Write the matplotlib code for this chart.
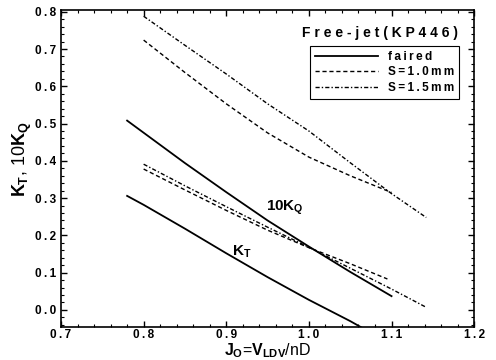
import matplotlib.pyplot as plt
from matplotlib.ticker import MultipleLocator, FuncFormatter

plt.rcParams['font.family'] = ['Liberation Sans', 'DejaVu Sans']
plt.rcParams['font.weight'] = 'bold'
plt.rcParams['mathtext.fontset'] = 'custom'
plt.rcParams['mathtext.rm'] = 'Liberation Sans:bold'
plt.rcParams['mathtext.it'] = 'Liberation Sans:bold'
plt.rcParams['mathtext.bf'] = 'Liberation Sans:bold'

# faired propeller
j_faired = [0.78, 0.80, 0.85, 0.90, 0.95, 1.00, 1.05, 1.07]
kt_faired = [0.306, 0.282, 0.218, 0.152, 0.088, 0.027, -0.030, -0.055]
j_kq_faired = [0.78, 0.85, 0.90, 0.95, 1.00, 1.05, 1.10]
kq10_faired = [0.508, 0.394, 0.316, 0.240, 0.170, 0.102, 0.037]

# gap S = 1.0 mm
j_s10 = [0.80, 0.85, 0.90, 0.95, 1.00, 1.05, 1.095]
low_s10 = [0.378, 0.322, 0.267, 0.214, 0.167, 0.124, 0.083]
j_s10_up = [0.80, 0.85, 0.90, 0.95, 1.00, 1.05, 1.10]
up_s10 = [0.724, 0.637, 0.553, 0.475, 0.410, 0.360, 0.315]

# gap S = 1.5 mm
j_s15 = [0.80, 0.85, 0.90, 0.95, 1.00, 1.05, 1.10, 1.142]
low_s15 = [0.391, 0.333, 0.277, 0.222, 0.168, 0.112, 0.056, 0.007]
up_s15 = [0.788, 0.710, 0.633, 0.553, 0.480, 0.395, 0.312, 0.248]


def spaced(s, gap='\u2009'):
    return gap.join(s)


fig = plt.figure(figsize=(4.96, 3.6), dpi=100)
ax = fig.add_axes([0.123, 0.0925, 0.833, 0.88])

lw = 1.3
dash10 = (0, (3, 2))
dash15 = (0, (3, 1.5, 1, 1.5))

ax.plot(j_faired, kt_faired, color='black', lw=lw, label=spaced('faired'))
ax.plot(j_kq_faired, kq10_faired, color='black', lw=lw)
ax.plot(j_s10, low_s10, color='black', lw=1.0, linestyle=dash10, label=spaced('S=1.0mm'))
ax.plot(j_s10_up, up_s10, color='black', lw=1.0, linestyle=dash10)
ax.plot(j_s15, low_s15, color='black', lw=1.0, linestyle=dash15, label=spaced('S=1.5mm'))
ax.plot(j_s15, up_s15, color='black', lw=1.0, linestyle=dash15)

ax.set_xlim(0.7, 1.2)
ax.set_ylim(-0.045, 0.805)
ax.xaxis.set_major_locator(MultipleLocator(0.1))
ax.xaxis.set_minor_locator(MultipleLocator(0.02))
ax.yaxis.set_major_locator(MultipleLocator(0.1))
ax.yaxis.set_minor_locator(MultipleLocator(0.02))
ax.tick_params(which='both', direction='in', top=True, right=True, labelsize=8.5)
ax.tick_params(which='major', length=4, width=1)
ax.tick_params(which='minor', length=2, width=0.8)
ax.tick_params(axis='x', pad=2)
fmt = FuncFormatter(lambda v, p: spaced(f'{v:.1f}'))
ax.xaxis.set_major_formatter(fmt)
ax.yaxis.set_major_formatter(fmt)
for s in ax.spines.values():
    s.set_linewidth(1.2)

ax.set_xlabel(r'$J_O$=$V_{LDV}$/nD', fontsize=11.5, va='bottom')
ax.xaxis.set_label_coords(0.5, -0.104)
ax.set_ylabel(r'$K_T$, 10$K_Q$', fontsize=13, va='center')
ax.yaxis.set_label_coords(-0.094, 0.53)

ax.text(0.971, 0.273, r'10$K_Q$', fontsize=11, ha='center', va='center')
ax.text(0.919, 0.155, r'$K_T$', fontsize=11, ha='center', va='center')

ax.text(1.086, 0.743, spaced('Free-jet(KP446)', ' '), fontsize=10, ha='center', va='center')
leg = ax.legend(loc='upper right', bbox_to_anchor=(0.964, 0.886), borderaxespad=0,
                fontsize=8.5, handlelength=5.4, fancybox=False, framealpha=1,
                edgecolor='black', borderpad=0.4, labelspacing=0.3, handletextpad=0.85)
leg.get_frame().set_linewidth(0.8)

fig.savefig('out.png', dpi=100)
